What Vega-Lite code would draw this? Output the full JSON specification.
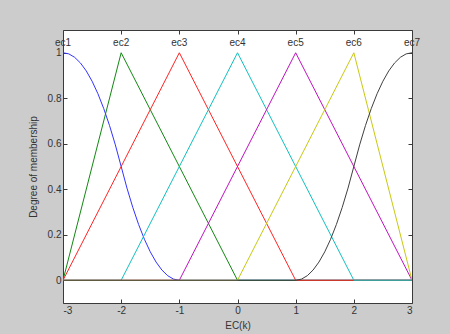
{
  "$schema": "https://vega.github.io/schema/vega-lite/v6.json",
  "autosize": "none",
  "width": 349,
  "height": 273,
  "padding": {"left": 63, "top": 30, "right": 38, "bottom": 31},
  "background": "#CCCCCC",
  "config": {
    "view": {"fill": "white", "stroke": null},
    "font": "Liberation Sans",
    "axis": {"grid": false, "domainColor": "#3a3a3a", "tickColor": "#3a3a3a", "labelColor": "#333333", "titleColor": "#333333", "labelFont": "Liberation Sans", "titleFont": "Liberation Sans", "labelFontSize": 10, "titleFontSize": 10, "titleFontWeight": "normal", "tickSize": -4}
  },
  "datasets": {
    "mf": [
      {"s": "ec1", "x": -3.0, "y": 1},
      {"s": "ec1", "x": -2.9, "y": 0.995},
      {"s": "ec1", "x": -2.8, "y": 0.98},
      {"s": "ec1", "x": -2.7, "y": 0.955},
      {"s": "ec1", "x": -2.6, "y": 0.92},
      {"s": "ec1", "x": -2.5, "y": 0.875},
      {"s": "ec1", "x": -2.4, "y": 0.82},
      {"s": "ec1", "x": -2.3, "y": 0.755},
      {"s": "ec1", "x": -2.2, "y": 0.68},
      {"s": "ec1", "x": -2.1, "y": 0.595},
      {"s": "ec1", "x": -2.0, "y": 0.5},
      {"s": "ec1", "x": -1.9, "y": 0.405},
      {"s": "ec1", "x": -1.8, "y": 0.32},
      {"s": "ec1", "x": -1.7, "y": 0.245},
      {"s": "ec1", "x": -1.6, "y": 0.18},
      {"s": "ec1", "x": -1.5, "y": 0.125},
      {"s": "ec1", "x": -1.4, "y": 0.08},
      {"s": "ec1", "x": -1.3, "y": 0.045},
      {"s": "ec1", "x": -1.2, "y": 0.02},
      {"s": "ec1", "x": -1.1, "y": 0.005},
      {"s": "ec1", "x": -1.0, "y": 0},
      {"s": "ec1", "x": 3.0, "y": 0},
      {"s": "ec2", "x": -3, "y": 0},
      {"s": "ec2", "x": -2, "y": 1},
      {"s": "ec2", "x": 0, "y": 0},
      {"s": "ec2", "x": 3, "y": 0},
      {"s": "ec3", "x": -3, "y": 0},
      {"s": "ec3", "x": -1, "y": 1},
      {"s": "ec3", "x": 1, "y": 0},
      {"s": "ec3", "x": 3, "y": 0},
      {"s": "ec4", "x": -3, "y": 0},
      {"s": "ec4", "x": -2, "y": 0},
      {"s": "ec4", "x": 0, "y": 1},
      {"s": "ec4", "x": 2, "y": 0},
      {"s": "ec4", "x": 3, "y": 0},
      {"s": "ec5", "x": -3, "y": 0},
      {"s": "ec5", "x": -1, "y": 0},
      {"s": "ec5", "x": 1, "y": 1},
      {"s": "ec5", "x": 3, "y": 0},
      {"s": "ec6", "x": -3, "y": 0},
      {"s": "ec6", "x": 0, "y": 0},
      {"s": "ec6", "x": 2, "y": 1},
      {"s": "ec6", "x": 3, "y": 0},
      {"s": "ec7", "x": -3.0, "y": 0},
      {"s": "ec7", "x": 1.0, "y": 0},
      {"s": "ec7", "x": 1.1, "y": 0.005},
      {"s": "ec7", "x": 1.2, "y": 0.02},
      {"s": "ec7", "x": 1.3, "y": 0.045},
      {"s": "ec7", "x": 1.4, "y": 0.08},
      {"s": "ec7", "x": 1.5, "y": 0.125},
      {"s": "ec7", "x": 1.6, "y": 0.18},
      {"s": "ec7", "x": 1.7, "y": 0.245},
      {"s": "ec7", "x": 1.8, "y": 0.32},
      {"s": "ec7", "x": 1.9, "y": 0.405},
      {"s": "ec7", "x": 2.0, "y": 0.5},
      {"s": "ec7", "x": 2.1, "y": 0.595},
      {"s": "ec7", "x": 2.2, "y": 0.68},
      {"s": "ec7", "x": 2.3, "y": 0.755},
      {"s": "ec7", "x": 2.4, "y": 0.82},
      {"s": "ec7", "x": 2.5, "y": 0.875},
      {"s": "ec7", "x": 2.6, "y": 0.92},
      {"s": "ec7", "x": 2.7, "y": 0.955},
      {"s": "ec7", "x": 2.8, "y": 0.98},
      {"s": "ec7", "x": 2.9, "y": 0.995},
      {"s": "ec7", "x": 3.0, "y": 1}
    ],
    "labels": [
      {"s": "ec1", "x": -3, "y": 1.045},
      {"s": "ec2", "x": -2, "y": 1.045},
      {"s": "ec3", "x": -1, "y": 1.045},
      {"s": "ec4", "x": 0, "y": 1.045},
      {"s": "ec5", "x": 1, "y": 1.045},
      {"s": "ec6", "x": 2, "y": 1.045},
      {"s": "ec7", "x": 3, "y": 1.045}
    ]
  },
  "layer": [
    {
      "data": {"name": "mf"},
      "mark": {"type": "line", "strokeWidth": 1, "clip": true},
      "encoding": {
        "x": {"field": "x", "type": "quantitative",
          "scale": {"domain": [-3, 3], "nice": false, "zero": false},
          "axis": {"orient": "bottom", "values": [-3, -2, -1, 0, 1, 2, 3], "labelExpr": "'' + datum.value", "title": "EC(k)", "labelPadding": 6, "titlePadding": 5}},
        "y": {"field": "y", "type": "quantitative",
          "scale": {"domain": [-0.1, 1.1], "nice": false, "zero": false},
          "axis": {"orient": "left", "values": [0, 0.2, 0.4, 0.6, 0.8, 1], "labelExpr": "'' + datum.value", "title": "Degree of membership", "labelPadding": 6, "titlePadding": 9}},
        "color": {"field": "s", "type": "nominal",
          "scale": {"domain": ["ec1", "ec2", "ec3", "ec4", "ec5", "ec6", "ec7"], "range": ["#3333ff", "#118811", "#ff2222", "#11c0c0", "#c011c0", "#c8c811", "#404040"]},
          "legend": null}
      }
    },
    {
      "data": {"name": "labels"},
      "mark": {"type": "text", "fontSize": 10, "color": "#333333", "baseline": "middle", "align": "center"},
      "encoding": {
        "x": {"field": "x", "type": "quantitative", "axis": {"orient": "top", "values": [-3, -2, -1, 0, 1, 2, 3], "labels": false, "title": null}},
        "y": {"field": "y", "type": "quantitative", "axis": {"orient": "right", "values": [0, 0.2, 0.4, 0.6, 0.8, 1], "labels": false, "title": null}},
        "text": {"field": "s"}
      }
    }
  ],
  "resolve": {"axis": {"x": "independent", "y": "independent"}}
}
